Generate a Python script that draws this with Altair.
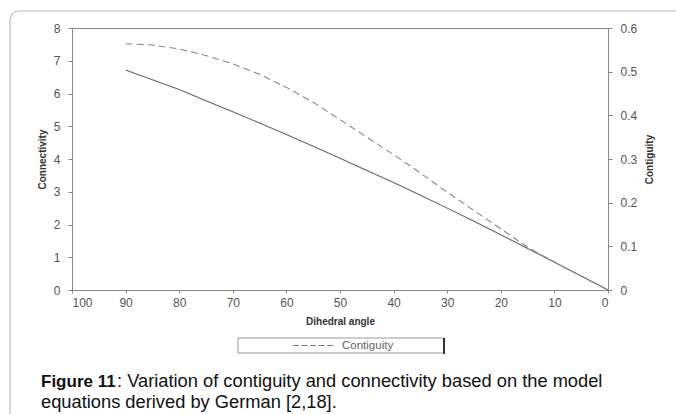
import altair as alt
import pandas as pd

# ---- data ----
angle = [90, 85, 80, 75, 70, 65, 60, 55, 50, 45, 40, 35, 30, 25, 20, 15, 10, 5, 0]
connectivity = [6.72, 6.42, 6.12, 5.78, 5.44, 5.10, 4.75, 4.39, 4.02, 3.65, 3.28,
                2.89, 2.50, 2.10, 1.69, 1.27, 0.85, 0.43, 0.0]
contiguity = [0.564, 0.561, 0.552, 0.537, 0.518, 0.494, 0.464, 0.430, 0.390, 0.350,
              0.310, 0.268, 0.224, 0.182, 0.140, 0.098, 0.064, 0.032, 0.0]
x_ticks = [0, 10, 20, 30, 40, 50, 60, 70, 80, 90, 100]
left_ticks = [0, 1, 2, 3, 4, 5, 6, 7, 8]
right_ticks = [0, 0.1, 0.2, 0.3, 0.4, 0.5, 0.6]
legend_label = "Contiguity"
caption_bold = "Figure 11"
caption_rest = ": Variation of contiguity and connectivity based on the model"
caption_line2 = "equations derived by German [2,18]."

df = pd.DataFrame({"angle": angle, "connectivity": connectivity, "contiguity": contiguity})
one = pd.DataFrame({"d": [0]})

FONT = "Liberation Sans"
W, H = 536, 262

x_enc = alt.X(
    "angle:Q",
    scale=alt.Scale(domain=[0, 100], reverse=True, nice=False),
    axis=alt.Axis(values=x_ticks, title="Dihedral angle", grid=False,
                  tickSize=3, labelPadding=4, titlePadding=8,
                  labelFontSize=12, titleFontSize=10, titleFontWeight="bold",
                  labelColor="#555", titleColor="#333",
                  domainColor="#888", tickColor="#888"),
)

conn_line = alt.Chart(df).mark_line(color="#666", strokeWidth=1.1).encode(
    x=x_enc,
    y=alt.Y("connectivity:Q",
            scale=alt.Scale(domain=[0, 8], nice=False),
            axis=alt.Axis(values=left_ticks, title="Connectivity", grid=False,
                          orient="left", tickSize=4, labelPadding=8, titlePadding=6,
                          labelFontSize=12, titleFontSize=10, titleFontWeight="bold",
                          labelColor="#555", titleColor="#333",
                          domainColor="#888", tickColor="#888")),
)

cont_line = alt.Chart(df).mark_line(color="#888", strokeWidth=1.1, strokeDash=[7, 4]).encode(
    x=x_enc,
    y=alt.Y("contiguity:Q",
            scale=alt.Scale(domain=[0, 0.6], nice=False),
            axis=alt.Axis(values=right_ticks, title="Contiguity", grid=False,
                          orient="right", tickSize=4, labelPadding=8, titlePadding=8,
                          titleAngle=270, titleBaseline="top", format="~g",
                          labelFontSize=12, titleFontSize=10, titleFontWeight="bold",
                          labelColor="#555", titleColor="#333",
                          domainColor="#888", tickColor="#888")),
)

base = alt.Chart(one)

# outer rounded frame (decoration)
frame = base.mark_rect(fill=None, stroke="#bbb", strokeWidth=1.2, cornerRadius=9).encode(
    x=alt.value(-62), x2=alt.value(640), y=alt.value(-17), y2=alt.value(420))

# legend box
leg_box = base.mark_rect(fill="white", stroke="#999", strokeWidth=1).encode(
    x=alt.value(166), x2=alt.value(372), y=alt.value(310), y2=alt.value(325))
leg_shadow = base.mark_rule(color="#333", strokeWidth=2).encode(
    x=alt.value(372), y=alt.value(310), y2=alt.value(326))
leg_dash = base.mark_rule(color="#777", strokeWidth=1, strokeDash=[6, 2.5]).encode(
    x=alt.value(221), x2=alt.value(263), y=alt.value(317.5))
leg_text = base.mark_text(align="left", baseline="middle", font=FONT, fontSize=11.5,
                          color="#666").encode(
    x=alt.value(270), y=alt.value(318), text=alt.value(legend_label))

cap1 = base.mark_text(align="left", baseline="alphabetic", font=FONT, fontSize=17,
                      fontWeight="bold", color="#111").encode(
    x=alt.value(-31), y=alt.value(358.5), text=alt.value(caption_bold))
cap2 = base.mark_text(align="left", baseline="alphabetic", font=FONT, fontSize=18.3,
                      color="#111").encode(
    x=alt.value(45), y=alt.value(358.5), text=alt.value(caption_rest))
cap3 = base.mark_text(align="left", baseline="alphabetic", font=FONT, fontSize=18.3,
                      color="#111").encode(
    x=alt.value(-31), y=alt.value(380), text=alt.value(caption_line2))

chart = alt.layer(
    frame, conn_line, cont_line, leg_box, leg_shadow, leg_dash, leg_text, cap1, cap2, cap3
).resolve_scale(y="independent").properties(
    width=W, height=H,
    autosize=alt.AutoSizeParams(type="none"),
    padding={"left": 72, "top": 28, "right": 68, "bottom": 124},
    background="white",
).configure_view(stroke="#888", strokeWidth=1).configure_axis(
    labelFont=FONT, titleFont=FONT
)

chart.save("out.html", embed_options={"renderer": "svg", "actions": False})
